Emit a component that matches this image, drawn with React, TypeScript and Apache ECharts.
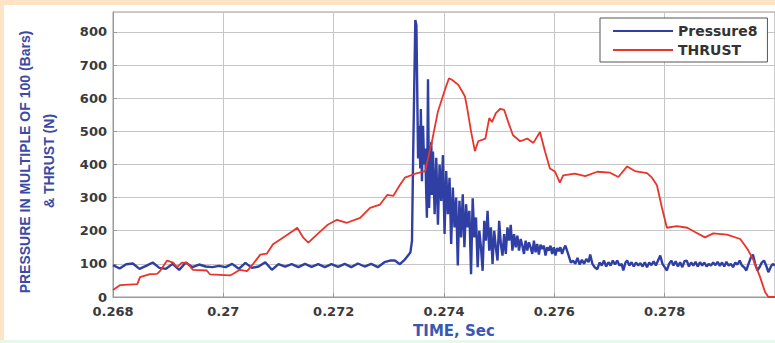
import React, { useEffect, useRef } from "react";
import * as echarts from "echarts";

const seriesNames = ["Pressure8", "THRUST"];

const pressureTime = [
  0.268, 0.26812, 0.26824, 0.26836, 0.26848, 0.2686, 0.26872, 0.26884, 0.26896, 0.26908,
  0.2692, 0.26932, 0.26944, 0.26956, 0.26968, 0.2698, 0.26992, 0.27004, 0.27016, 0.27028,
  0.2704, 0.27052, 0.27064, 0.27076, 0.27088, 0.271, 0.27112, 0.27124, 0.27136, 0.27148,
  0.2716, 0.27172, 0.27184, 0.27196, 0.27208, 0.2722, 0.27232, 0.27244, 0.27256, 0.27268,
  0.2728, 0.27292, 0.27302, 0.27311, 0.2732, 0.27329, 0.27339, 0.27342, 0.27344, 0.27348,
  0.2735, 0.27353, 0.27355, 0.27357, 0.27358, 0.2736, 0.27362, 0.27364, 0.27366, 0.27368,
  0.27369, 0.27371, 0.27373, 0.27375, 0.27377, 0.27378,
  0.2738, 0.27383, 0.27386, 0.27389, 0.27392, 0.27395, 0.27398, 0.27401, 0.27404, 0.27407,
  0.2741, 0.27413, 0.27416, 0.27419, 0.27422, 0.27425, 0.27428, 0.27431, 0.27434, 0.27437,
  0.2744, 0.27443, 0.27446, 0.27449, 0.27452, 0.27455, 0.27458, 0.27461, 0.27464, 0.27467,
  0.2747, 0.27473, 0.27476, 0.27479, 0.27482, 0.27485, 0.27488, 0.27491, 0.27494, 0.27497,
  0.275, 0.27503, 0.27506, 0.27509, 0.27512, 0.27515, 0.27518, 0.27521, 0.27524, 0.27527,
  0.2753, 0.27533, 0.27536, 0.27539, 0.27542, 0.27545, 0.27548, 0.27551, 0.27554, 0.27557,
  0.2756, 0.27563, 0.27566, 0.27569, 0.27572, 0.27575, 0.27578, 0.27581, 0.27584, 0.27587,
  0.2759, 0.27593, 0.27596, 0.27599, 0.27602, 0.27605, 0.27608, 0.27611, 0.27614, 0.27617,
  0.2762, 0.27625, 0.2763, 0.27634, 0.27638, 0.27642, 0.27646, 0.2765, 0.27654, 0.27658,
  0.27662, 0.27665, 0.27669, 0.27673, 0.27678, 0.27682, 0.27686, 0.2769, 0.27694, 0.27698,
  0.27702, 0.27706, 0.2771, 0.27714, 0.27718, 0.27722, 0.27725, 0.27729, 0.27732, 0.27736,
  0.2774, 0.27744, 0.27748, 0.27752, 0.27756, 0.2776, 0.27764, 0.27768, 0.27772, 0.27776,
  0.2778, 0.27784, 0.27788, 0.27792, 0.27796, 0.278, 0.27804, 0.27808, 0.27812, 0.27816,
  0.2782, 0.27824, 0.27828, 0.27832, 0.27836, 0.2784, 0.27844, 0.27848, 0.27852, 0.27856,
  0.2786, 0.27864, 0.27868, 0.27872, 0.27876, 0.2788, 0.27884, 0.27888, 0.27892, 0.27896,
  0.279, 0.27904, 0.27908, 0.27912, 0.27916, 0.2792, 0.27924, 0.27928, 0.27932, 0.27936,
  0.2794, 0.27944, 0.27948, 0.27952, 0.27956, 0.2796, 0.27964, 0.27968, 0.27972, 0.27976,
  0.2798, 0.27984, 0.27988, 0.27992, 0.27996, 0.28
];
const pressureValues = [
  96, 86, 99, 101, 85, 94, 104, 88, 85, 100,
  82, 104, 90, 98, 92, 90, 94, 90, 100, 85,
  103, 88, 92, 105, 82, 99, 92, 99, 90, 100,
  91, 99, 90, 99, 91, 100, 90, 101, 92, 100,
  90, 105, 110, 110, 99, 113, 134, 170, 418, 836,
  820, 418, 517, 388, 567, 349, 517, 400, 448, 300,
  239, 657, 269, 400, 468, 308,
  439, 250, 420, 218, 400, 290, 428, 190, 380, 250,
  360, 160, 330, 210, 300, 95, 290, 180, 310, 150,
  280, 210, 260, 69, 298, 180, 240, 90, 200, 150,
  79, 230, 170, 260, 140, 210, 100, 200, 150, 110,
  230, 160, 125, 190, 130, 210, 170, 218, 140, 190,
  150, 185, 140, 175, 155, 130, 170, 140, 165, 150,
  130, 170, 135, 160, 128, 158, 145, 155, 125, 150,
  140, 155, 130, 150, 125, 148, 138, 150, 130, 145,
  155, 130, 104, 110, 100, 118, 98, 112, 100, 115,
  105, 128, 100, 90, 84, 104, 95, 110, 92, 105,
  95, 110, 98, 110, 95, 100, 80, 104, 110, 95,
  105, 92, 104, 95, 102, 92, 105, 90, 104, 96,
  108, 95, 110, 125, 100, 90, 80, 100, 110, 95,
  108, 92, 105, 90, 108, 110, 92, 104, 95, 106,
  92, 105, 95, 104, 92, 100, 95, 104, 96, 106,
  94, 104, 92, 106, 95, 100, 90, 104, 98, 110,
  95, 90, 80, 100, 118, 128, 100, 80, 90, 104,
  110, 95, 75, 90, 100, 95
];

const thrustTime = [
  0.268, 0.26813, 0.26844, 0.26849, 0.26867, 0.2688, 0.26885, 0.26898, 0.26909, 0.26916,
  0.26925, 0.26934, 0.26945, 0.2697, 0.26976, 0.27012, 0.27018, 0.2703, 0.27043, 0.27054,
  0.27067, 0.27079, 0.2709, 0.27108, 0.27126, 0.27134, 0.27145, 0.27154, 0.2717, 0.2719,
  0.27206, 0.27224, 0.27248, 0.27266, 0.27284, 0.27297, 0.27308, 0.2732, 0.27329, 0.27348,
  0.27366, 0.27371, 0.27378, 0.27389, 0.27402, 0.27409, 0.27415, 0.27426, 0.27433, 0.27438,
  0.27442, 0.27449, 0.27456, 0.27462, 0.27475, 0.27482, 0.27487, 0.27494, 0.27502, 0.27509,
  0.27516, 0.27525, 0.27538, 0.27551, 0.27562, 0.27574, 0.27583, 0.27592, 0.27601, 0.2761,
  0.27616, 0.27637, 0.27656, 0.27678, 0.27701, 0.27716, 0.27732, 0.27746, 0.27768, 0.27777,
  0.27786, 0.27795, 0.27804, 0.27822, 0.27841, 0.27855, 0.27873, 0.27888, 0.27913, 0.27937,
  0.2795, 0.2796, 0.27973, 0.27982, 0.27988, 0.28
];
const thrustValues = [
  21, 36, 39, 60, 69, 70, 78, 110, 104, 90,
  104, 103, 82, 80, 68, 65, 70, 82, 78, 100,
  128, 131, 159, 179, 199, 209, 179, 164, 189, 219,
  233, 224, 239, 269, 279, 308, 305, 338, 360, 372,
  380, 418, 468, 560, 627, 660, 655, 640, 620, 605,
  570, 500, 440, 470, 478, 540, 528, 555, 568, 565,
  530, 488, 470, 478, 465, 498, 440, 388, 379, 345,
  367, 372, 365, 378, 375, 362, 394, 380, 374, 360,
  337, 270, 209, 214, 209, 196, 180, 192, 188, 175,
  145, 115, 60, 15, 0, 0
];

const xMin = 0.268;
const xMax = 0.28;
const xStep = 0.002;
const yMin = 0;
const yMax = 860;
const yStep = 100;

const yTitleLine1 = "PRESSURE IN MULTIPLE OF 100 (Bars)";
const yTitleLine2 = "& THRUST (N)";
const xTitle = "TIME, Sec";

export default function App() {
  const ref = useRef<HTMLDivElement>(null);

  useEffect(() => {
    if (!ref.current) return;
    const chart = echarts.init(ref.current, undefined, { renderer: "svg" });
    const pressureData = pressureTime.map((t, i) => [t, pressureValues[i]]);
    const thrustData = thrustTime.map((t, i) => [t, thrustValues[i]]);
    const titleColor = "#3a4aa6";
    const lineIcon = "path://M0,0 L60,0 L60,2 L0,2 Z";

    chart.setOption({
      animation: false,
      backgroundColor: "#ffffff",
      grid: {
        left: 113,
        top: 12,
        right: 0,
        bottom: 43,
        show: true,
        borderColor: "#9a9a9a",
        borderWidth: 1,
        backgroundColor: "#ffffff",
      },
      legend: {
        data: [
          { name: seriesNames[0], icon: lineIcon },
          { name: seriesNames[1], icon: lineIcon },
        ],
        orient: "vertical",
        left: 600,
        top: 18,
        padding: [6, 10, 5, 13],
        itemWidth: 60,
        itemHeight: 14,
        itemGap: 5,
        symbolKeepAspect: true,
        backgroundColor: "#ffffff",
        borderColor: "#555555",
        borderWidth: 1,
        textStyle: {
          fontFamily: "DejaVu Sans",
          fontWeight: "bold",
          fontSize: 14,
          color: "#333333",
        },
      },
      xAxis: {
        type: "value",
        min: xMin,
        max: xMax,
        interval: xStep,
        name: xTitle,
        nameLocation: "middle",
        nameGap: 26,
        nameTextStyle: {
          fontFamily: "DejaVu Sans",
          fontWeight: "bold",
          fontSize: 15,
          color: "#3a58b0",
          padding: [0, 0, 0, 20],
        },
        axisLine: { show: true, lineStyle: { color: "#9a9a9a", width: 1 } },
        axisTick: { show: true, inside: true, length: 4, lineStyle: { color: "#9a9a9a" } },
        axisLabel: {
          margin: 8,
          fontFamily: "DejaVu Sans",
          fontWeight: "bold",
          fontSize: 13,
          color: "#3a3a3a",
          showMaxLabel: false,
          formatter: (v: number) => String(parseFloat(v.toFixed(3))),
        },
        splitLine: { show: true, lineStyle: { color: "#c6c6c6", width: 1 } },
      },
      yAxis: {
        type: "value",
        min: yMin,
        max: yMax,
        interval: yStep,
        axisLine: { show: true, lineStyle: { color: "#9a9a9a", width: 1 } },
        axisTick: { show: true, inside: true, length: 4, lineStyle: { color: "#9a9a9a" } },
        axisLabel: {
          margin: 6,
          fontFamily: "DejaVu Sans",
          fontWeight: "bold",
          fontSize: 13,
          lineHeight: 13,
          color: "#3a3a3a",
          showMaxLabel: false,
        },
        splitLine: { show: true, lineStyle: { color: "#c6c6c6", width: 1 } },
      },
      graphic: [
        { type: "rect", left: 0, top: 0, shape: { width: 775, height: 5 }, style: { fill: "#fde4c4" }, silent: true },
        { type: "rect", left: 0, top: 0, shape: { width: 4, height: 343 }, style: { fill: "#fde4c4" }, silent: true },
        { type: "rect", left: 0, top: 340, shape: { width: 775, height: 3 }, style: { fill: "#e6f8e6" }, silent: true },
        {
          type: "text",
          x: 25,
          y: 162,
          rotation: Math.PI / 2,
          style: {
            text: yTitleLine1,
            fontFamily: "Liberation Sans",
            fontWeight: "bold",
            fontSize: 14,
            fill: titleColor,
            textAlign: "center",
            textVerticalAlign: "middle",
          },
        },
        {
          type: "text",
          x: 49,
          y: 161,
          rotation: Math.PI / 2,
          style: {
            text: yTitleLine2,
            fontFamily: "Liberation Sans",
            fontWeight: "bold",
            fontSize: 14,
            fill: titleColor,
            textAlign: "center",
            textVerticalAlign: "middle",
          },
        },
      ],
      series: [
        {
          name: seriesNames[0],
          type: "line",
          data: pressureData,
          symbol: "none",
          lineStyle: { color: "#2f3fa3", width: 2.4 },
          itemStyle: { color: "#2f3fa3" },
          z: 2,
        },
        {
          name: seriesNames[1],
          type: "line",
          data: thrustData,
          symbol: "none",
          lineStyle: { color: "#e8342a", width: 1.8 },
          itemStyle: { color: "#e8342a" },
          z: 3,
        },
      ],
    });
    return () => chart.dispose();
  }, []);

  return (
    <div
      ref={ref}
      style={{ position: "absolute", left: 0, top: 0, width: 775, height: 343 }}
    />
  );
}
